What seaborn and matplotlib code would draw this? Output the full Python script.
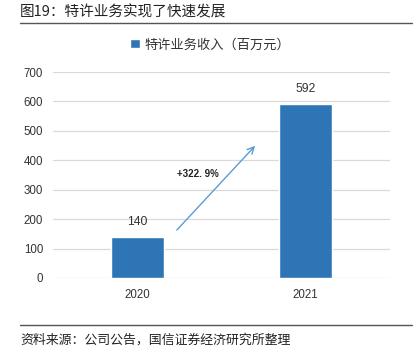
import matplotlib
matplotlib.use('Agg')
import matplotlib.pyplot as plt
import seaborn as sns
import pandas as pd

# ---------- dados ----------
anos = ['2020', '2021']
receita = [140, 592]
serie_nome = '特许业务收入（百万元）'
crescimento = '+322. 9%'
titulo = '图19：特许业务实现了快速发展'
fonte = '资料来源：公司公告，国信证券经济研究所整理'

sns.set_theme(style='white')
plt.rcParams['font.family'] = ['Noto Sans CJK SC', 'DejaVu Sans']
num_font = ['Liberation Sans', 'DejaVu Sans']

df = pd.DataFrame({'ano': anos, 'receita': receita})

fig = plt.figure(figsize=(4.17, 3.53), dpi=100)
ax = fig.add_axes([0.127, 0.2125, 0.808, 0.5835])

sns.barplot(data=df, x='ano', y='receita', color='#2E75B6', width=0.315,
            saturation=1, ax=ax, label=serie_nome, zorder=3)

ax.set_ylim(0, 700)
ax.set_xlim(-0.5, 1.5)
ax.set_yticks(range(0, 701, 100))
ax.yaxis.grid(True, color='#D9D9D9', linewidth=0.9, zorder=0)
ax.set_axisbelow(True)
for s in ax.spines.values():
    s.set_visible(False)
ax.tick_params(axis='both', length=0, labelsize=8.3, colors='#333333')
ax.tick_params(axis='x', pad=8)
ax.tick_params(axis='y', pad=7)
for lab in ax.get_xticklabels() + ax.get_yticklabels():
    lab.set_fontfamily(num_font)
ax.set_xlabel('')
ax.set_ylabel('')

# rótulos das barras
for i, v in enumerate(receita):
    ax.text(i, v + 30, str(v), ha='center', va='bottom', fontsize=8.7,
            color='#333333', family=num_font)

# seta de crescimento
ax.annotate('', xy=(0.711, 456), xytext=(0.224, 156),
            arrowprops=dict(arrowstyle='->', color='#5B9BD5', lw=1.0,
                            mutation_scale=12), zorder=4)
ax.text(0.36, 354, crescimento, ha='center', va='center', fontsize=7,
        fontweight='bold', color='#222222', family=num_font)

# legenda
ax.legend(loc='center', bbox_to_anchor=(0.505, 0.873), bbox_transform=fig.transFigure,
          frameon=False, fontsize=9.5, handlelength=0.7, handleheight=0.7,
          handletextpad=0.4, labelcolor='#333333')

# título e fonte
fig.text(0.048, 0.965, titulo, ha='left', va='center', fontsize=10.5, color='#222222')
fig.add_artist(plt.Line2D([0.048, 0.988], [0.935, 0.935], color='#555555',
                          lw=1.0, transform=fig.transFigure))
fig.add_artist(plt.Line2D([0.048, 0.988], [0.079, 0.079], color='#555555',
                          lw=1.0, transform=fig.transFigure))
fig.text(0.048, 0.037, fonte, ha='left', va='center', fontsize=9.3, color='#222222')

fig.savefig('out.png', dpi=100)
